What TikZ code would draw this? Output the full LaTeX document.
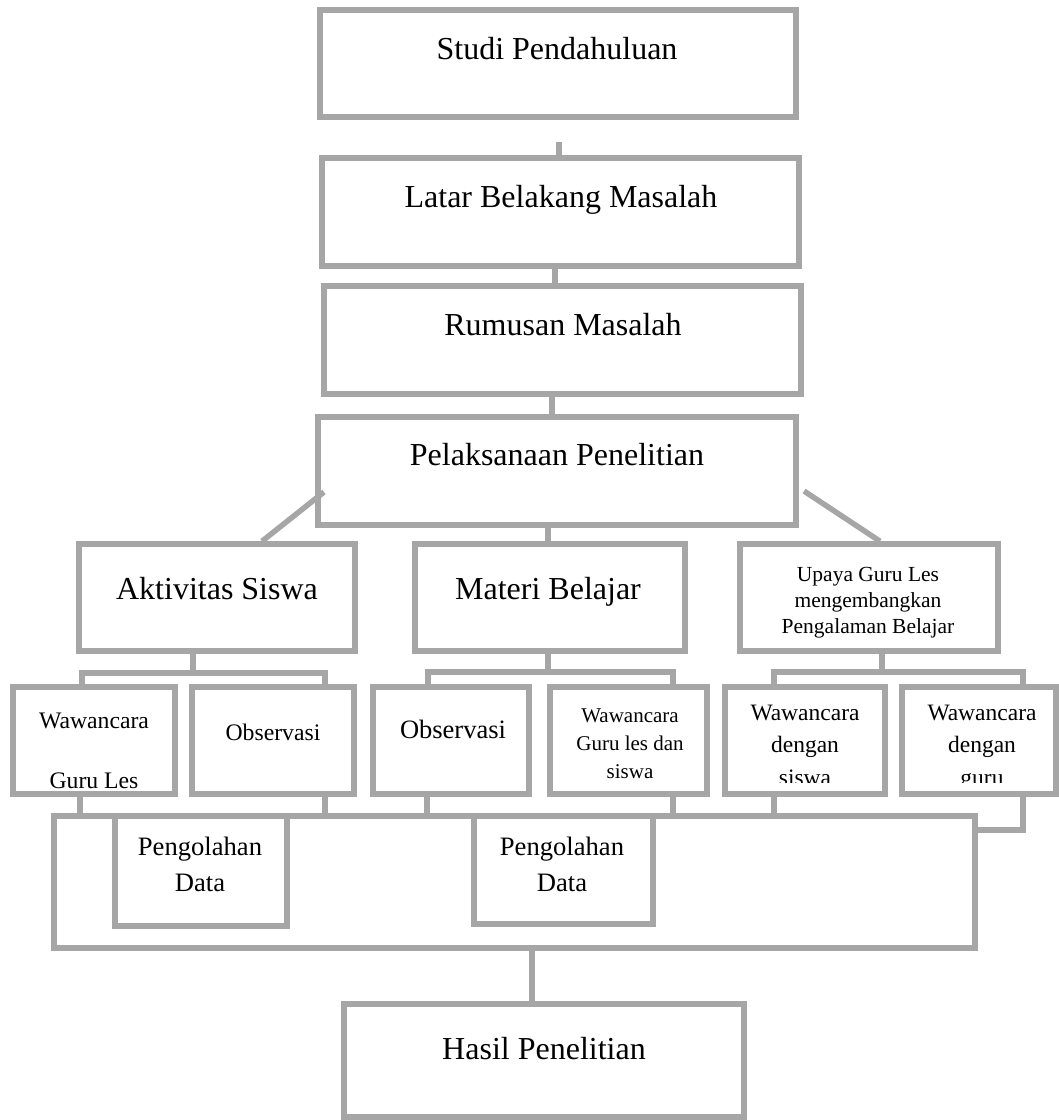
\documentclass[tikz,border=0pt]{standalone}
\usepackage{fontspec}
\setmainfont{Liberation Serif}
\usetikzlibrary{positioning,calc}
\definecolor{framegray}{HTML}{A6A6A6}
\tikzset{
  box/.style={draw=framegray, line width=5.5pt, rectangle, inner sep=0pt},
  link/.style={draw=framegray, line width=5.5pt},
  txt/.style={anchor=base, inner sep=0pt, align=center},
}
\newcommand{\fs}[2]{\fontsize{#1}{#2}\selectfont}

\begin{document}
\begin{tikzpicture}[x=1pt, y=-1pt]
  \useasboundingbox (0,0) rectangle (1059,1120);

  % main chain
  \node[box, minimum width=476pt, minimum height=107pt](studi) at (558,63.5) {};
  \node[box, minimum width=477pt, minimum height=108pt](latar) at (560.5,212) {};
  \node[box, minimum width=477pt, minimum height=108pt](rumusan) at (562.5,340) {};
  \node[box, minimum width=478pt, minimum height=108pt](pelak) at (557,471) {};

  \node[txt, font=\fs{32}{38}](studi-t) at (557,59) {Studi Pendahuluan};
  \node[txt, font=\fs{32}{38}](latar-t) at (561,207) {Latar Belakang Masalah};
  \node[txt, font=\fs{32}{38}](rumusan-t) at (563,335) {Rumusan Masalah};
  \node[txt, font=\fs{32}{38}](pelak-t) at (557,465) {Pelaksanaan Penelitian};

  % second row
  \node[box, minimum width=276pt, minimum height=107pt](aktiv) at (217,597.5) {};
  \node[box, minimum width=270pt, minimum height=107pt](materi) at (550,597.5) {};
  \node[box, minimum width=258pt, minimum height=107pt](upaya) at (869,597.5) {};

  \node[txt, font=\fs{32}{38}](aktiv-t) at (217,599) {Aktivitas Siswa};
  \node[txt, font=\fs{32}{38}](materi-t) at (548,599) {Materi Belajar};
  \node[txt, font=\fs{21.5}{26}](upaya-t) at (868,633) {Upaya Guru Les\\mengembangkan\\Pengalaman Belajar};

  % third row
  \node[box, minimum width=162pt, minimum height=107pt](wgl) at (94,740.5) {};
  \node[box, minimum width=162pt, minimum height=107pt](obs1) at (273,740.5) {};
  \node[box, minimum width=156pt, minimum height=107pt](obs2) at (451,740.5) {};
  \node[box, minimum width=157pt, minimum height=107pt](wgs) at (628.5,740.5) {};
  \node[box, minimum width=160pt, minimum height=107pt](wds) at (805,740.5) {};
  \node[box, minimum width=154pt, minimum height=107pt](wdg) at (979,740.5) {};

  \node[txt, font=\fs{23.7}{30}](wgl-t) at (94,788) {Wawancara\\[30pt]Guru Les};
  \node[txt, font=\fs{23.7}{28}](obs1-t) at (273,740) {Observasi};
  \node[txt, font=\fs{26.5}{30}](obs2-t) at (453,738) {Observasi};
  \node[txt, font=\fs{21}{28}](wgs-t) at (630,778) {Wawancara\\Guru les dan\\siswa};
  \begin{scope}
    \clip (wds.north west) rectangle ([yshift=14pt]wdg.south east);
    \node[txt, font=\fs{23.5}{32.5}](wds-t) at (805,785) {Wawancara\\dengan\\siswa};
    \node[txt, font=\fs{23.5}{32.5}](wdg-t) at (982,785) {Wawancara\\dengan\\guru};
  \end{scope}

  % processing
  \node[box, minimum width=921pt, minimum height=132pt](olah) at (514.5,882) {};
  \node[box, minimum width=172pt, minimum height=110pt](olah1) at (201,871) {};
  \node[box, minimum width=179pt, minimum height=108pt](olah2) at (563.5,870) {};
  \node[txt, font=\fs{26.6}{36}](olah1-t) at (200,891) {Pengolahan\\Data};
  \node[txt, font=\fs{26.6}{36}](olah2-t) at (562,891) {Pengolahan\\Data};

  \node[box, minimum width=400pt, minimum height=113pt](hasil) at (544,1060.5) {};
  \node[txt, font=\fs{32}{38}](hasil-t) at (544,1059) {Hasil Penelitian};

  % connectors
  \coordinate (stubtop) at (559,142);
  \draw[link] (stubtop) -- (stubtop |- latar.north);
  \draw[link] ([xshift=-5.5pt]latar.south) -- ([xshift=-5.5pt]latar.south |- rumusan.north);
  \draw[link] ([xshift=-10.5pt]rumusan.south) -- ([xshift=-10.5pt]rumusan.south |- pelak.north);
  \draw[link] ([xshift=-9pt]pelak.south) -- ([xshift=-9pt]pelak.south |- materi.north);

  \coordinate (diagl) at (324,492);
  \coordinate (diagr) at (804,491);
  \draw[link] (diagl) -- ([xshift=45pt]aktiv.north);
  \draw[link] (diagr) -- ([xshift=11pt]upaya.north);

  \coordinate (fork1) at (193,673);
  \coordinate (fork2) at (548,672);
  \coordinate (fork3) at (882,672);
  \draw[link] ([xshift=-24pt]aktiv.south) -- (fork1);
  \draw[link] ([xshift=-12pt]wgl.north) |- ([xshift=52pt]obs1.north |- fork1) -- ([xshift=52pt]obs1.north);
  \draw[link] ([xshift=-2pt]materi.south) -- (fork2);
  \draw[link] ([xshift=-23pt]obs2.north) |- ([xshift=44.5pt]wgs.north |- fork2) -- ([xshift=44.5pt]wgs.north);
  \draw[link] ([xshift=13pt]upaya.south) -- (fork3);
  \draw[link] ([xshift=-31pt]wds.north) |- ([xshift=44pt]wdg.north |- fork3) -- ([xshift=44pt]wdg.north);

  \draw[link] ([xshift=-14pt]wgl.south) -- ([xshift=-14pt]wgl.south |- olah.north);
  \draw[link] ([xshift=52pt]obs1.south) -- ([xshift=52pt]obs1.south |- olah.north);
  \draw[link] ([xshift=-24pt]obs2.south) -- ([xshift=-24pt]obs2.south |- olah.north);
  \draw[link] ([xshift=44.5pt]wgs.south) -- ([xshift=44.5pt]wgs.south |- olah.north);
  \draw[link] ([xshift=-31pt]wds.south) -- ([xshift=-31pt]wds.south |- olah.north);
  \coordinate (turn) at (1023,830);
  \draw[link] ([xshift=44pt]wdg.south) -- (turn) -- (turn -| olah.east);

  \draw[link] ([xshift=17.5pt]olah.south) -- ([xshift=17.5pt]olah.south |- hasil.north);
\end{tikzpicture}
\end{document}
